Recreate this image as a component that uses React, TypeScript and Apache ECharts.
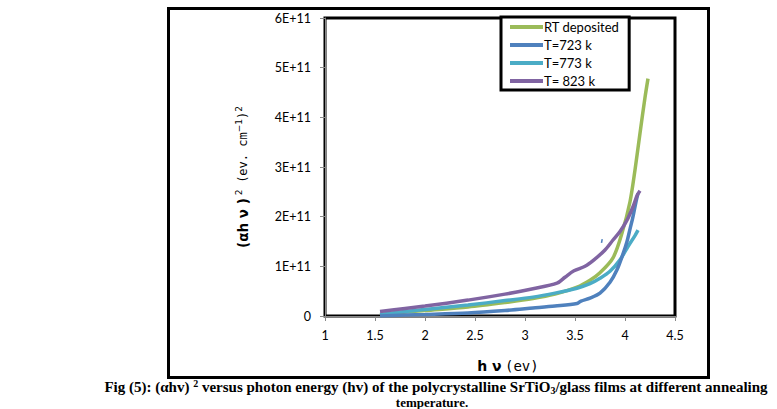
import React, { useEffect, useRef } from "react";
import * as echarts from "echarts";

const seriesNames = ["RT deposited", "T=723 k", "T=773 k", "T= 823 k"];
const seriesColors = ["#9BBB59", "#4F81BD", "#4BACC6", "#8064A2"];

// x: photon energy (eV), y: (αhν)^2 in units of 1E+11
const rtX = [1.55, 1.76, 2.0, 2.43, 2.8, 3.08, 3.3, 3.52, 3.65, 3.75, 3.88, 3.97, 4.05, 4.1, 4.15, 4.2, 4.23];
const rtY = [0.02, 0.07, 0.11, 0.18, 0.27, 0.35, 0.44, 0.58, 0.72, 0.87, 1.17, 1.67, 2.3, 2.94, 3.68, 4.4, 4.78];

const t723X = [1.55, 1.8, 2.0, 2.43, 2.8, 3.08, 3.3, 3.52, 3.56, 3.65, 3.75, 3.85, 3.92, 3.98, 4.02, 4.05, 4.08, 4.11, 4.13];
const t723Y = [0.0, 0.02, 0.03, 0.06, 0.11, 0.16, 0.2, 0.25, 0.3, 0.36, 0.46, 0.68, 0.93, 1.25, 1.5, 1.75, 2.0, 2.3, 2.47];

const t773X = [1.55, 1.8, 2.0, 2.43, 2.8, 3.08, 3.3, 3.52, 3.65, 3.75, 3.85, 3.95, 4.03, 4.1, 4.13];
const t773Y = [0.03, 0.09, 0.13, 0.22, 0.31, 0.38, 0.46, 0.56, 0.65, 0.76, 0.9, 1.13, 1.4, 1.62, 1.73];

const t823X = [1.55, 1.8, 2.0, 2.43, 2.8, 3.08, 3.32, 3.4, 3.49, 3.6, 3.69, 3.8, 3.88, 3.95, 4.02, 4.08, 4.12, 4.15];
const t823Y = [0.09, 0.15, 0.2, 0.32, 0.44, 0.55, 0.66, 0.78, 0.91, 1.0, 1.13, 1.33, 1.53, 1.7, 1.93, 2.2, 2.42, 2.52];

const strayX = [3.765, 3.772];
const strayY = [1.47, 1.55];

const xTicks = { min: 1, max: 4.5, interval: 0.5 };
const yTicks = { min: 0, max: 6, interval: 1 }; // in 1E+11

const UNIT = 1e11;

function pairs(xs: number[], ys: number[]) {
  return xs.map((x, i) => [x, ys[i] * UNIT]);
}

export default function App() {
  const ref = useRef<HTMLDivElement>(null);
  useEffect(() => {
    document.body.style.margin = "0";
    if (!ref.current) return;
    const chart = echarts.init(ref.current, null, { renderer: "svg" });
    const data = [pairs(rtX, rtY), pairs(t723X, t723Y), pairs(t773X, t773Y), pairs(t823X, t823Y)];
    const tickFont = "Lato, 'Open Sans', sans-serif";
    chart.setOption({
      animation: false,
      backgroundColor: "#ffffff",
      grid: {
        left: 325,
        right: 102,
        top: 18,
        bottom: 93,
        show: true,
        borderColor: "#000000",
        borderWidth: 3,
        backgroundColor: "transparent",
      },
      legend: {
        orient: "vertical",
        left: 501,
        top: 17,
        width: 134,
        data: seriesNames,
        icon: "rect",
        itemWidth: 33,
        itemHeight: 4,
        itemGap: 4,
        padding: [3, 10, 2, 9],
        borderColor: "#000000",
        borderWidth: 3,
        backgroundColor: "#ffffff",
        textStyle: { fontFamily: tickFont, fontSize: 13, color: "#000000", lineHeight: 14, padding: [0, 0, 0, -4] },
      },
      xAxis: {
        type: "value",
        min: xTicks.min,
        max: xTicks.max,
        interval: xTicks.interval,
        axisLine: { show: true, onZero: false, lineStyle: { color: "#888888", width: 1 } },
        axisTick: { show: true, length: 5, lineStyle: { color: "#888888" } },
        splitLine: { show: false },
        axisLabel: { fontFamily: tickFont, fontSize: 12.5, color: "#000000", margin: 13 },
      },
      yAxis: {
        type: "value",
        min: yTicks.min * UNIT,
        max: yTicks.max * UNIT,
        interval: yTicks.interval * UNIT,
        axisLine: { show: true, lineStyle: { color: "#888888", width: 1 } },
        axisTick: { show: true, length: 5, lineStyle: { color: "#888888" } },
        splitLine: { show: false },
        axisLabel: {
          fontFamily: tickFont,
          fontSize: 12.5,
          color: "#000000",
          margin: 14,
          formatter: (v: number) => (v === 0 ? "0" : Math.round(v / UNIT) + "E+11"),
        },
      },
      series: [
        ...seriesNames.map((name, i) => ({
          name,
          type: "line",
          data: data[i],
          smooth: 0.3,
          showSymbol: false,
          symbol: "none",
          itemStyle: { color: seriesColors[i] },
          lineStyle: { color: seriesColors[i], width: 3.5 },
          z: i === 0 ? 2 : i === 2 ? 3 : i === 1 ? 4 : 5,
        })),
        {
          name: "stray",
          type: "line",
          data: pairs(strayX, strayY),
          showSymbol: false,
          symbol: "none",
          lineStyle: { color: "#4F81BD", width: 1.5 },
          itemStyle: { color: "#4F81BD" },
        },
      ],
      graphic: [
        {
          type: "rect",
          shape: { x: 168.5, y: 8.5, width: 540, height: 369 },
          style: { fill: "none", stroke: "#000000", lineWidth: 3 },
          silent: true,
          z: 100,
        },
        {
          type: "text",
          x: 243,
          y: 177,
          rotation: Math.PI / 2,
          style: {
            text: "{b|(αh ν )}{s| 2}  {n|(ev. cm}{s|−1}{n|)}{s|2}",
            align: "center",
            verticalAlign: "middle",
            rich: {
              b: { fontFamily: "'DejaVu Sans', sans-serif", fontWeight: "bold", fontSize: 13.5, fill: "#000000" },
              n: { fontFamily: "'DejaVu Sans Mono', 'DejaVu Sans', monospace", fontSize: 12, fill: "#000000" },
              s: { fontFamily: "'DejaVu Sans', sans-serif", fontSize: 9, fill: "#000000", verticalAlign: "top", padding: [0, 0, 8, 0] },
            },
          },
          z: 100,
        },
        {
          type: "text",
          x: 508,
          y: 366,
          style: {
            text: "{b|h ν} {n|(ev)}",
            align: "center",
            verticalAlign: "middle",
            rich: {
              b: { fontFamily: "'DejaVu Sans', sans-serif", fontWeight: "bold", fontSize: 14, fill: "#000000" },
              n: { fontFamily: "'DejaVu Sans Mono', 'DejaVu Sans', monospace", fontSize: 14, fill: "#000000" },
            },
          },
          z: 100,
        },
        {
          type: "text",
          x: 436,
          y: 387,
          style: {
            text: "{t|Fig (5): (αhv) }{s|2}{t| versus photon energy (hv) of the polycrystalline SrTiO}{u|3}{t|/glass films at different annealing}",
            align: "center",
            verticalAlign: "middle",
            rich: {
              t: { fontFamily: "'Liberation Serif', 'Times New Roman', serif", fontWeight: "bold", fontSize: 15, fill: "#000000" },
              s: { fontFamily: "'Liberation Serif', serif", fontWeight: "bold", fontSize: 10, fill: "#000000", padding: [0, 0, 8, 0] },
              u: { fontFamily: "'Liberation Serif', serif", fontWeight: "bold", fontSize: 10, fill: "#000000", padding: [6, 0, 0, 0] },
            },
          },
          z: 100,
        },
        {
          type: "text",
          x: 432,
          y: 402,
          style: {
            text: "temperature.",
            align: "center",
            verticalAlign: "middle",
            fontFamily: "'Liberation Serif', 'Times New Roman', serif",
            fontWeight: "bold",
            fontSize: 13,
            fill: "#000000",
          },
          z: 100,
        },
      ],
    });
    return () => chart.dispose();
  }, []);
  return <div ref={ref} style={{ width: 777, height: 409 }} />;
}
